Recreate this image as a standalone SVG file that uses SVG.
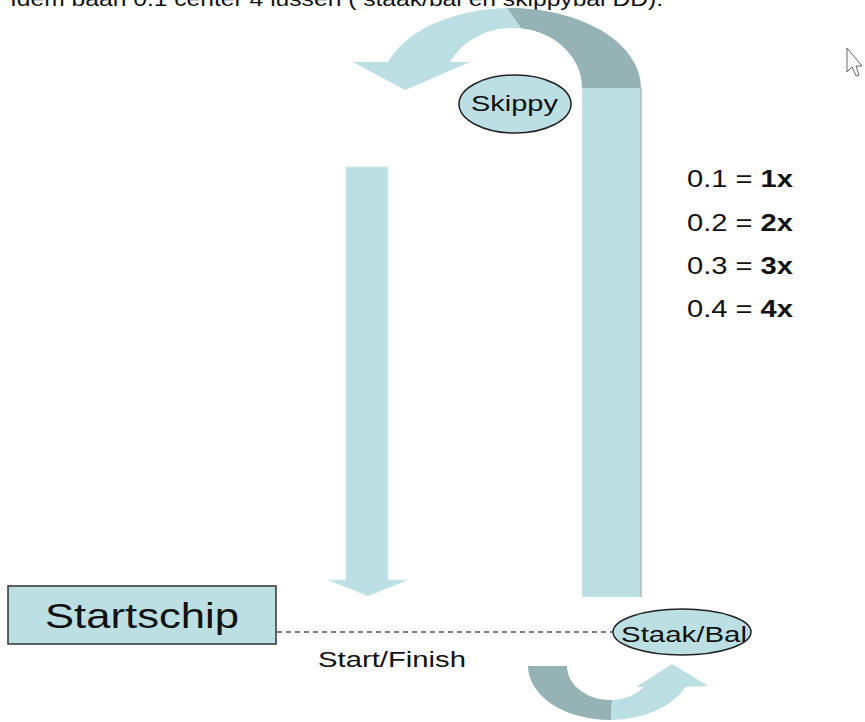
<svg xmlns="http://www.w3.org/2000/svg" width="865" height="722" viewBox="0 0 865 722">
<style>
text{font-family:"Liberation Sans",Arial,sans-serif;fill:#111;}
.lt{fill:#bbdfe3;}
.dk{fill:#95b2b5;}
.node{fill:#bbdfe3;stroke:#222;stroke-width:1.5;}
.dash{stroke:#555;stroke-width:1.3;stroke-dasharray:5 4;fill:none;}
.b{font-weight:bold;}
</style>
<rect width="865" height="722" fill="#fff"/>
<text x="10" y="6" font-size="19.5" textLength="653" lengthAdjust="spacingAndGlyphs">Idem baan 0.1 center 4 lussen ( staak/bal en skippybal DD).</text>
<g id="connectors">
  <!-- top curved arrow -->
  <path class="lt" d="M388,62 A130,80 0 0 1 507,8.04 L521,28.3 A70,60 0 0 0 450,62 Z"/>
  <polygon class="lt" points="353,62 470,62 405,90"/>
  <path class="dk" d="M507,8.04 A130,80 0 0 1 641,88 L582,88 A70,60 0 0 0 521,28.3 Z"/>
  <!-- right column -->
  <rect class="lt" x="582" y="88" width="59" height="509"/>
  <line x1="641" y1="88" x2="641" y2="597" stroke="#a9b9bb" stroke-width="1.5"/>
  <!-- left down arrow -->
  <polygon class="lt" points="346,167 388,167 388,580 408,580 368,596 328,580 346,580" stroke="#d8ecee" stroke-width="1"/>
  <!-- bottom curved arrow -->
  <path class="dk" d="M528,666 A82,54 0 0 0 611,720 L612,700 A43,34 0 0 1 567,666 Z"/>
  <path class="lt" d="M611,720 A82,54 0 0 0 685.5,687 L708,686 L672,664 L636,687 L644,687 A43,34 0 0 1 612,700 Z"/>
  <!-- start/finish line -->
  <line class="dash" x1="277" y1="632" x2="613" y2="632"/>
</g>
<g id="node-skippy">
  <ellipse class="node" cx="515" cy="104" rx="56" ry="29"/>
  <text x="471" y="111" font-size="22" textLength="87" lengthAdjust="spacingAndGlyphs">Skippy</text>
</g>
<g id="node-staakbal">
  <ellipse class="node" cx="682" cy="632" rx="69" ry="23"/>
  <text x="621" y="642" font-size="22" textLength="126" lengthAdjust="spacingAndGlyphs">Staak/Bal</text>
</g>
<g id="node-startschip">
  <rect x="8" y="586" width="268" height="58" fill="#bbdfe3" stroke="#333" stroke-width="1.5"/>
  <text x="45" y="628" font-size="35" textLength="194" lengthAdjust="spacingAndGlyphs">Startschip</text>
</g>
<g id="labels">
  <text x="318" y="667" font-size="22" textLength="148" lengthAdjust="spacingAndGlyphs">Start/Finish</text>
  <text x="687" y="187" font-size="24" textLength="106" lengthAdjust="spacingAndGlyphs">0.1 = <tspan class="b">1x</tspan></text>
  <text x="687" y="231" font-size="24" textLength="106" lengthAdjust="spacingAndGlyphs">0.2 = <tspan class="b">2x</tspan></text>
  <text x="687" y="274" font-size="24" textLength="106" lengthAdjust="spacingAndGlyphs">0.3 = <tspan class="b">3x</tspan></text>
  <text x="687" y="317" font-size="24" textLength="106" lengthAdjust="spacingAndGlyphs">0.4 = <tspan class="b">4x</tspan></text>
</g>
<g id="cursor">
  <polygon points="847,48 847,72 852,67 856,76 859,75 856,66 862,66" fill="#fff" stroke="#666" stroke-width="1"/>
</g>
</svg>
